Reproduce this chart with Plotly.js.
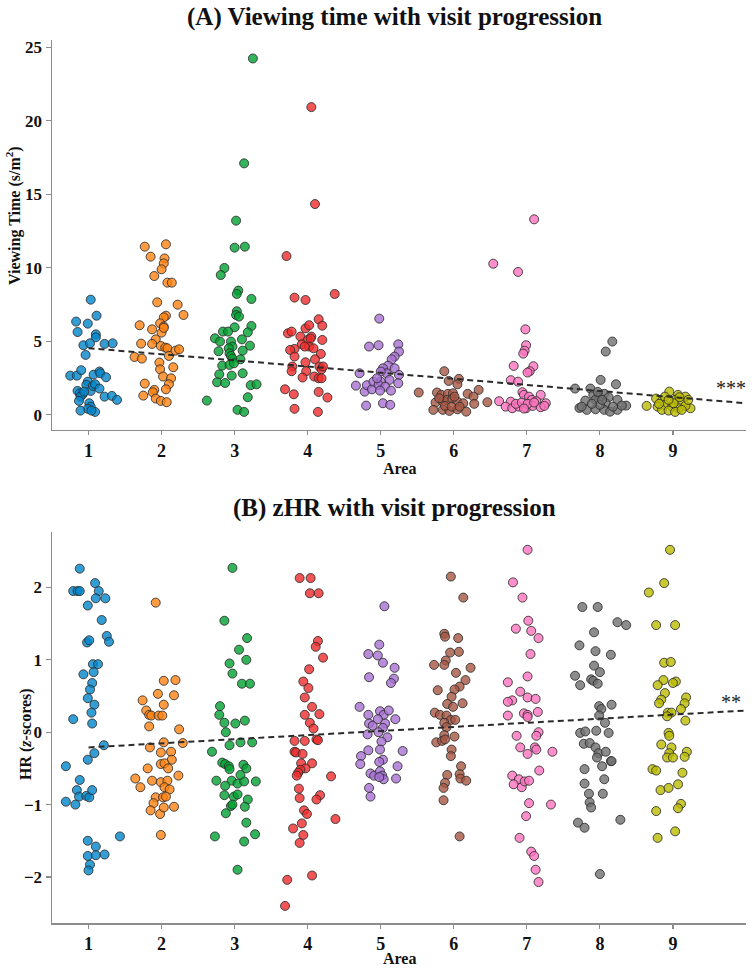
<!DOCTYPE html>
<html>
<head>
<meta charset="utf-8">
<script src="https://cdn.plot.ly/plotly-3.0.1.min.js"></script>
<style>html,body{margin:0;padding:0;background:#fff;}#chart{width:752px;height:968px;}</style>
</head>
<body>
<div id="chart"></div>
<script>
const areas = [1, 2, 3, 4, 5, 6, 7, 8, 9];
const areaColors = ['rgba(0,132,201,0.8)', 'rgba(255,130,16,0.8)', 'rgba(0,161,49,0.8)', 'rgba(239,42,42,0.8)',
  'rgba(167,112,211,0.8)', 'rgba(166,86,66,0.8)', 'rgba(255,115,191,0.8)', 'rgba(111,111,111,0.8)', 'rgba(188,188,0,0.8)'];

// (A) Viewing time: jittered x positions and values per area
const viewX = [
  [1.03,0.83,1.11,0.99,0.85,1.10,1.10,0.93,1.02,1.22,1.33,0.96,0.75,0.84,0.90,1.07,1.15,1.16,1.24,0.99,0.97,0.85,0.88,0.92,0.89,0.87,1.03,1.06,1.09,1.15,1.22,1.32,1.39,1.01,1.03,0.99,0.89,1.09,1.04,0.94],
  [1.77,2.06,1.85,2.04,2.03,2.00,1.90,2.08,2.14,1.94,2.22,2.30,2.06,2.03,1.70,1.98,2.03,1.87,2.00,2.03,1.92,1.72,1.87,1.99,2.05,2.08,2.19,2.24,1.63,1.73,2.10,1.97,1.98,2.16,2.02,2.13,1.77,2.10,2.06,1.90,1.88,1.75,1.92,1.99,2.07],
  [3.25,3.13,3.02,3.00,3.14,2.86,2.81,3.05,3.03,3.23,3.03,3.02,3.06,3.23,3.00,3.18,2.84,2.91,2.73,2.80,2.95,3.10,2.97,2.92,2.78,3.21,3.11,2.93,2.95,2.97,3.08,2.83,2.93,2.99,2.79,2.96,3.11,2.76,2.87,3.22,3.30,3.18,2.62,3.04,3.13],
  [4.05,4.10,3.71,3.82,3.97,4.37,4.15,4.20,3.97,4.02,3.73,3.78,3.90,4.05,4.00,4.04,4.20,3.82,3.76,3.92,4.02,3.96,4.08,4.18,3.82,4.10,3.97,3.79,3.78,3.98,4.16,4.19,4.21,4.09,3.93,4.15,4.19,3.69,3.81,4.15,4.27,3.82,4.14],
  [4.84,4.71,4.66,4.78,4.80,4.81,4.88,4.90,4.98,4.97,5.24,5.25,5.19,5.15,5.10,5.19,5.03,5.25,5.08,5.00,5.12,5.24,5.00,4.97,5.06,5.14,4.99,5.03,5.13,4.95],
  [5.87,6.07,5.93,6.05,5.52,5.77,5.83,5.92,5.99,6.19,6.34,6.27,5.75,5.85,5.91,5.98,6.05,6.13,6.28,6.46,5.72,5.85,5.94,6.05,6.17,5.88,5.97,6.08,6.01,5.80],
  [7.10,6.54,6.88,6.98,6.99,6.97,6.95,6.82,7.09,7.04,7.01,6.78,6.88,6.94,6.96,7.19,6.62,6.78,7.03,7.07,7.13,7.26,6.71,6.80,6.89,6.99,7.08,7.19,7.24,6.85,6.93,7.01,7.10,6.96],
  [8.17,8.08,8.01,7.66,7.87,8.22,7.91,7.99,8.06,8.12,7.80,7.94,8.08,8.24,8.36,7.72,7.82,7.94,8.06,8.14,8.24,8.30,8.00,7.89,8.18,7.97,7.75,8.03],
  [8.95,8.64,8.77,8.85,8.89,9.07,9.17,9.03,9.12,8.79,8.89,8.99,9.08,9.24,9.17,8.85,8.94,9.03,9.12,9.01,8.94,8.81,9.21,9.09]
];
const viewY = [
  [7.82,6.33,6.73,6.19,5.62,5.46,5.26,4.72,4.85,4.81,4.85,4.06,2.65,2.65,3.02,2.72,2.93,2.81,2.54,2.24,2.02,1.61,1.45,1.38,1.22,0.93,1.61,1.95,2.06,1.77,1.22,1.27,1.00,0.77,0.54,0.39,0.27,0.18,0.27,1.56],
  [11.43,11.59,10.75,10.63,10.29,9.89,9.43,8.98,8.98,7.64,7.48,6.78,6.73,6.62,6.08,6.21,5.99,5.80,5.58,5.90,5.12,4.83,4.81,4.67,4.56,4.51,4.35,4.44,3.92,3.81,3.99,3.54,3.08,3.22,2.59,2.47,2.11,2.06,1.72,1.68,1.52,1.29,1.09,0.93,0.84],
  [24.24,17.10,13.20,11.36,11.43,9.98,9.50,8.44,8.21,7.87,7.03,6.78,6.67,6.03,5.94,5.60,5.65,5.65,5.19,4.97,4.97,5.12,4.63,4.51,4.31,4.69,4.35,4.17,3.99,3.81,3.76,3.33,3.38,3.49,2.74,2.65,2.81,2.20,2.15,2.00,2.06,1.18,0.95,0.32,0.18],
  [20.93,14.33,10.79,7.96,7.80,8.21,6.49,6.05,5.87,6.08,5.53,5.65,5.31,5.31,5.08,5.17,5.08,4.47,4.40,4.78,4.63,4.63,4.51,4.13,3.95,3.76,3.56,3.27,2.95,2.95,3.27,3.08,3.27,2.59,2.52,2.47,2.47,1.72,1.38,1.54,1.16,0.39,0.18],
  [4.63,2.81,1.97,1.56,0.61,2.00,1.72,2.24,6.53,4.72,4.78,4.29,3.95,3.76,3.33,3.15,3.15,2.70,2.81,2.93,2.36,2.13,2.24,2.02,1.90,1.63,1.63,0.77,0.66,2.47],
  [2.95,2.43,2.29,2.06,1.50,1.50,1.34,1.41,1.45,1.41,1.68,1.22,0.82,0.88,1.00,1.07,0.88,0.77,0.73,0.84,0.32,0.32,0.25,0.36,0.20,0.59,0.54,0.54,1.22,1.11],
  [13.29,10.27,9.71,5.80,4.72,4.35,4.15,3.31,3.29,2.95,2.86,2.34,2.24,1.52,1.34,1.34,0.91,0.88,1.22,1.00,0.91,0.77,0.54,0.43,0.54,0.43,0.59,0.50,0.59,0.73,0.82,0.73,0.82,0.41],
  [4.97,4.29,2.36,1.77,1.77,2.06,1.34,1.22,1.41,1.18,0.95,1.00,0.77,1.00,0.61,0.45,0.32,0.36,0.32,0.20,0.32,0.61,0.66,0.73,0.54,1.54,0.54,1.00],
  [1.56,0.59,1.09,0.93,1.22,1.34,1.22,1.00,0.82,0.54,0.66,0.54,0.43,0.43,0.59,0.32,0.27,0.18,0.32,0.77,1.00,0.73,1.00,1.18]
];

// (B) zHR: jittered x positions and z-scores per area
const hrX = [
  [0.88,0.79,0.85,0.88,1.09,1.14,1.10,1.23,0.99,1.18,1.25,1.28,0.98,1.01,1.06,1.13,0.93,1.07,1.05,1.02,0.99,1.08,1.04,0.79,1.05,1.21,1.08,0.99,0.69,0.88,0.84,0.87,0.97,1.01,1.05,0.69,0.82,0.99,1.10,0.99,1.10,1.22,1.02,1.00,1.43],
  [1.92,2.03,2.19,1.95,2.17,1.74,2.03,1.79,1.83,1.86,1.96,2.01,1.83,2.24,2.03,2.29,1.84,1.99,2.13,2.14,1.99,2.04,2.09,1.81,1.64,1.87,1.99,2.08,2.23,1.71,2.04,2.11,1.92,2.02,2.06,1.89,1.85,1.98,2.03,2.17,1.99],
  [2.97,2.86,3.17,3.06,2.93,3.16,2.97,3.10,3.21,2.80,2.79,2.86,3.01,3.14,2.88,3.08,3.24,2.93,2.69,2.83,2.87,2.92,2.93,3.12,3.16,2.75,2.96,3.04,3.13,3.29,3.08,2.87,2.86,2.99,3.04,3.18,2.95,2.97,3.14,2.88,3.16,2.73,3.28,3.13,3.04],
  [3.89,4.04,4.03,4.15,4.14,4.11,4.21,4.02,3.94,4.01,3.96,4.06,3.96,4.16,4.03,4.08,4.12,4.14,3.82,3.96,3.82,3.84,3.93,3.91,4.06,3.97,3.90,3.87,3.85,4.32,3.88,3.89,4.17,4.12,3.95,3.99,4.38,3.80,3.92,3.94,3.89,3.72,4.06,3.69],
  [5.05,4.98,4.96,5.03,5.19,5.18,5.14,4.83,4.84,4.71,4.83,4.84,4.89,4.82,4.83,4.73,4.72,4.86,4.91,4.84,4.86,4.99,5.04,5.11,4.96,5.06,5.03,5.20,4.97,5.09,5.01,4.99,5.30,5.03,4.98,5.23,4.99,5.02,5.04,4.98,5.21],
  [5.96,6.13,5.87,5.88,6.06,5.95,6.07,5.89,5.73,5.87,6.03,6.23,6.16,6.08,6.01,5.78,5.97,5.91,5.99,6.12,5.74,5.81,5.90,5.96,6.02,5.87,5.90,5.87,6.01,5.76,5.84,5.88,5.97,5.96,6.10,5.91,6.08,6.09,6.17,5.88,5.86,5.86,6.08],
  [7.01,6.81,6.94,7.02,6.85,7.06,7.16,7.05,7.01,6.74,6.91,7.01,7.12,6.80,6.74,6.74,6.96,7.01,7.15,7.01,6.86,7.16,7.13,6.91,7.11,7.13,7.01,7.35,7.17,6.80,6.89,6.82,6.93,6.97,7.03,7.03,7.33,6.99,6.90,7.06,7.10,7.12,7.16],
  [7.76,7.97,8.24,8.36,7.92,7.72,7.94,8.15,7.92,8.00,7.66,7.88,7.91,7.73,7.97,7.99,8.02,8.16,7.99,8.07,7.73,7.80,7.95,8.12,7.78,7.86,7.94,7.98,7.96,8.08,8.15,8.16,8.03,7.79,7.79,8.06,7.85,8.04,7.86,7.88,7.70,7.79,8.28,8.00],
  [8.96,8.88,8.67,8.77,9.03,8.88,8.97,8.87,9.04,9.00,8.79,8.89,9.18,8.84,8.81,9.16,9.11,8.93,8.98,8.92,9.17,8.94,8.95,8.84,8.98,8.95,9.19,8.92,9.00,9.16,8.72,8.77,9.13,9.07,8.83,8.94,9.11,9.07,8.77,9.03,8.79]
];
const hrY = [
  [2.26,1.95,1.95,1.95,2.06,1.95,1.85,1.85,1.75,1.55,1.33,1.25,1.24,1.27,0.94,0.94,0.80,0.83,0.68,0.59,0.47,0.38,0.27,0.18,0.12,-0.18,-0.29,-0.38,-0.47,-0.66,-0.80,-0.89,-0.88,-0.90,-0.80,-0.96,-1.00,-1.50,-1.58,-1.71,-1.70,-1.69,-1.83,-1.91,-1.44],
  [1.79,0.71,0.72,0.53,0.51,0.44,0.38,0.30,0.24,0.23,0.23,0.23,0.08,0.04,-0.14,-0.15,-0.21,-0.28,-0.27,-0.38,-0.44,-0.43,-0.50,-0.50,-0.64,-0.67,-0.69,-0.67,-0.60,-0.76,-0.76,-0.79,-0.90,-0.90,-0.89,-0.98,-1.08,-1.13,-1.04,-1.03,-1.42],
  [2.27,1.54,1.30,1.14,0.95,1.00,0.81,0.67,0.67,0.36,0.24,0.13,0.12,0.16,0.00,-0.14,-0.14,-0.18,-0.27,-0.42,-0.44,-0.47,-0.51,-0.45,-0.50,-0.67,-0.67,-0.71,-0.68,-0.68,-0.59,-0.74,-0.87,-0.89,-0.86,-0.93,-1.02,-1.00,-1.03,-1.12,-1.25,-1.44,-1.41,-1.51,-1.90],
  [2.13,2.13,1.92,1.92,1.26,1.18,1.03,0.87,0.70,0.61,0.48,0.35,0.24,0.25,0.13,0.05,-0.10,-0.11,-0.12,-0.12,-0.27,-0.28,-0.30,-0.43,-0.43,-0.50,-0.52,-0.56,-0.60,-0.61,-0.78,-0.91,-0.87,-0.93,-1.08,-1.13,-1.20,-1.33,-1.26,-1.42,-1.53,-2.04,-1.98,-2.40],
  [1.74,1.21,1.06,0.96,0.89,0.74,0.68,1.08,0.76,0.35,0.24,0.12,0.09,-0.03,-0.25,-0.33,-0.44,-0.57,-0.60,-0.77,-0.89,0.29,0.24,0.30,0.18,0.12,0.06,0.18,0.00,-0.07,-0.13,-0.24,-0.26,-0.38,-0.41,-0.47,-0.54,-0.60,-0.65,-0.62,-0.64],
  [2.15,1.86,1.36,1.32,1.30,1.10,1.11,0.99,0.93,0.93,0.82,0.89,0.72,0.63,0.59,0.58,0.49,0.39,0.35,0.40,0.27,0.24,0.23,0.17,0.17,0.13,0.07,-0.04,-0.06,-0.14,-0.12,-0.10,-0.24,-0.33,-0.47,-0.59,-0.58,-0.64,-0.67,-0.70,-0.77,-0.94,-1.44],
  [2.52,2.07,1.86,1.54,1.43,1.40,1.30,1.08,0.77,0.69,0.56,0.48,0.46,0.44,0.42,0.23,0.26,0.24,0.28,0.21,-0.05,0.00,-0.05,-0.21,-0.21,-0.24,-0.30,-0.27,-0.53,-0.60,-0.65,-0.72,-0.76,-0.68,-0.67,-0.98,-1.00,-1.16,-1.46,-1.65,-1.71,-1.90,-2.07],
  [1.73,1.73,1.52,1.48,1.38,1.20,1.12,1.07,0.92,0.83,0.78,0.73,0.71,0.65,0.67,0.36,0.32,0.38,0.23,0.13,-0.01,0.01,0.02,-0.01,-0.16,-0.15,-0.21,-0.29,-0.35,-0.27,-0.40,-0.40,-0.47,-0.51,-0.71,-0.65,-0.85,-0.85,-0.97,-1.04,-1.25,-1.32,-1.21,-1.96],
  [2.52,2.06,1.93,1.48,1.48,0.96,0.97,0.72,0.70,0.68,0.65,0.54,0.48,0.45,0.40,0.40,0.32,0.27,0.27,0.22,0.16,-0.01,-0.05,-0.17,-0.21,-0.29,-0.27,-0.35,-0.35,-0.34,-0.51,-0.53,-0.56,-0.72,-0.80,-0.77,-0.99,-1.05,-1.09,-1.37,-1.46]
];

// fitted trend lines (endpoints) and significance marks
const trendX = [1, 10];
const trendViewY = [4.52, 0.77];
const trendHrY = [-0.21, 0.30];
const sigLabels = ['***', '**'];
const sigX = [9.79, 9.79];
const sigY = [1.82, 0.42];

const serif = '"Liberation Serif", "Times New Roman", Times, serif';
const traces = [];
areas.forEach((a, i) => {
  const mk = {size: 9, color: areaColors[i], line: {color: 'rgba(45,45,45,0.85)', width: 1}};
  traces.push({type: 'scatter', mode: 'markers', x: viewX[i], y: viewY[i], xaxis: 'x', yaxis: 'y', marker: mk, name: 'Area ' + a, hoverinfo: 'skip'});
  traces.push({type: 'scatter', mode: 'markers', x: hrX[i], y: hrY[i], xaxis: 'x2', yaxis: 'y2', marker: mk, name: 'Area ' + a, hoverinfo: 'skip'});
});
traces.push({type: 'scatter', mode: 'lines', x: trendX, y: trendViewY, xaxis: 'x', yaxis: 'y', name: 'trend A', line: {color: '#2a2a2a', width: 2, dash: '6px,4px'}});
traces.push({type: 'scatter', mode: 'lines', x: trendX, y: trendHrY, xaxis: 'x2', yaxis: 'y2', name: 'trend B', line: {color: '#2a2a2a', width: 2, dash: '6px,4px'}});

const axisBase = {
  showline: true, linecolor: '#8c8c8c', linewidth: 1.5, ticks: 'outside', ticklen: 5, tickwidth: 1.2,
  tickcolor: '#8c8c8c', showgrid: false, zeroline: false, mirror: false,
  tickfont: {family: serif, size: 17, color: '#111', weight: 'bold'}
};
const xBase = Object.assign({}, axisBase, {range: [0.5, 10], tickvals: areas, ticktext: areas.map(String), ticklen: 4,
  tickfont: {family: serif, size: 18, color: '#111', weight: 'bold'}});

const layout = {
  width: 752, height: 968,
  margin: {l: 52, r: 6, t: 0, b: 0},
  paper_bgcolor: '#fff', plot_bgcolor: '#fff',
  showlegend: false,
  xaxis: Object.assign({}, xBase, {domain: [0, 1], anchor: 'y'}),
  yaxis: Object.assign({}, axisBase, {domain: [0.5558, 0.9587], anchor: 'x', range: [-1.05, 25.5], tickvals: [0, 5, 10, 15, 20, 25]}),
  xaxis2: Object.assign({}, xBase, {domain: [0, 1], anchor: 'y2'}),
  yaxis2: Object.assign({}, axisBase, {domain: [0.0462, 0.4507], anchor: 'x2', range: [-2.64, 2.77], tickvals: [-2, -1, 0, 1, 2], ticktext: ['\u22122', '\u22121', '0', '1', '2']}),
  annotations: [
    {text: '(A) Viewing time with visit progression', xref: 'paper', yref: 'paper', x: 0.4928, y: 0.9824, xanchor: 'center', yanchor: 'middle', showarrow: false, font: {family: serif, size: 25, color: '#111', weight: 'bold'}},
    {text: '(B) zHR with visit progression', xref: 'paper', yref: 'paper', x: 0.4928, y: 0.4752, xanchor: 'center', yanchor: 'middle', showarrow: false, font: {family: serif, size: 25, color: '#111', weight: 'bold'}},
    {text: 'Viewing Time (s/m<sup>2</sup>)', xref: 'paper', yref: 'paper', x: -0.0548, y: 0.7779, xanchor: 'center', yanchor: 'middle', textangle: -90, showarrow: false, font: {family: serif, size: 16, color: '#111', weight: 'bold'}},
    {text: 'HR (<i>z</i>-scores)', xref: 'paper', yref: 'paper', x: -0.0375, y: 0.2417, xanchor: 'center', yanchor: 'middle', textangle: -90, showarrow: false, font: {family: serif, size: 16, color: '#111', weight: 'bold'}},
    {text: 'Area', xref: 'paper', yref: 'paper', x: 0.5, y: 0.5165, xanchor: 'center', yanchor: 'middle', showarrow: false, font: {family: serif, size: 16, color: '#111', weight: 'bold'}},
    {text: 'Area', xref: 'paper', yref: 'paper', x: 0.5, y: 0.0095, xanchor: 'center', yanchor: 'middle', showarrow: false, font: {family: serif, size: 16, color: '#111', weight: 'bold'}},
    {text: sigLabels[0], xref: 'x', yref: 'y', x: sigX[0], y: sigY[0], xanchor: 'center', yanchor: 'middle', showarrow: false, font: {family: serif, size: 20, color: '#222'}},
    {text: sigLabels[1], xref: 'x2', yref: 'y2', x: sigX[1], y: sigY[1], xanchor: 'center', yanchor: 'middle', showarrow: false, font: {family: serif, size: 20, color: '#222'}}
  ]
};

Plotly.newPlot('chart', traces, layout, {displayModeBar: false, staticPlot: true});
</script>
</body>
</html>
